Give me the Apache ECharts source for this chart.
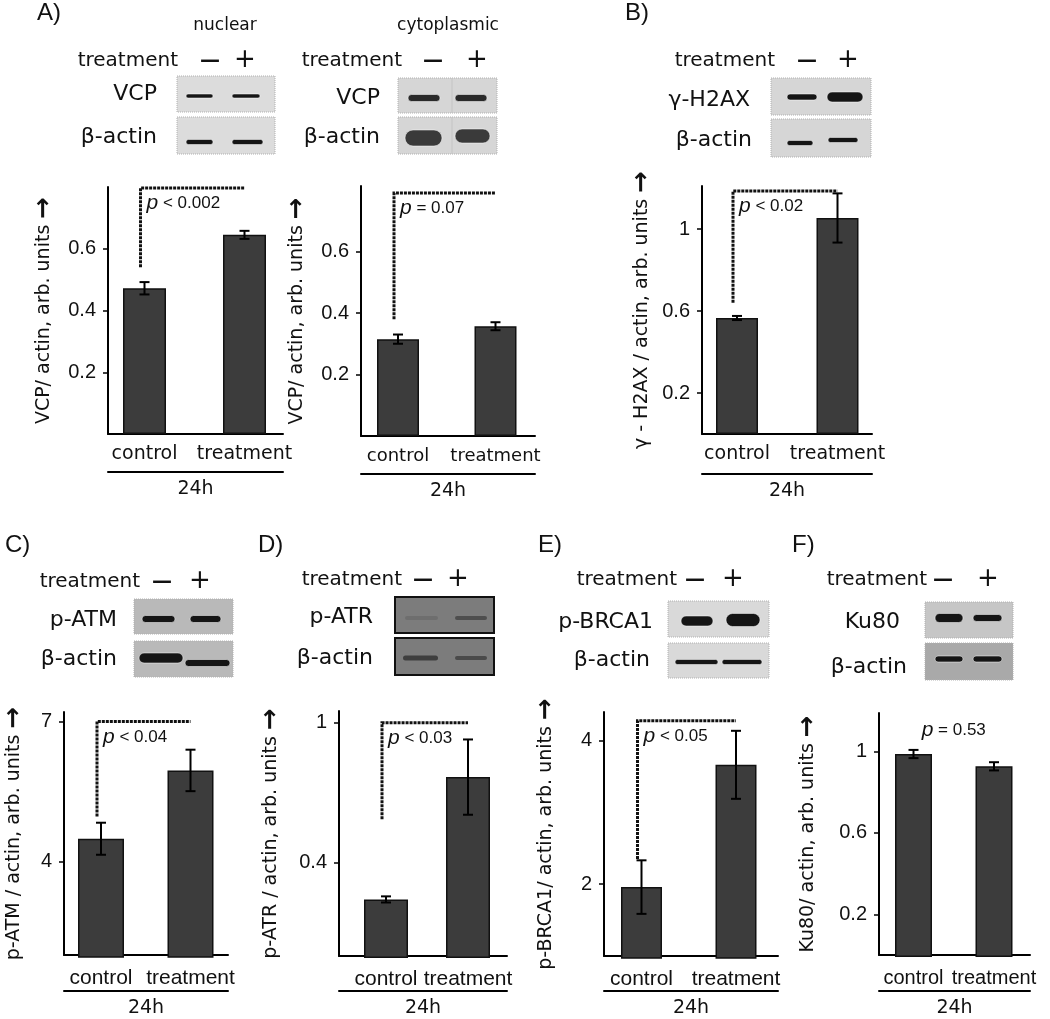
<!DOCTYPE html>
<html><head><meta charset="utf-8">
<script src="https://cdn.jsdelivr.net/npm/echarts@6/dist/echarts.min.js"></script>
<style>html,body{margin:0;padding:0;background:#fff}#c{width:1050px;height:1019px}</style>
</head><body><div id="c"></div>
<script>
// ---------------- DATA ----------------
const categories = ['control', 'treatment'];
// A) VCP nuclear
const vcpNuclear = [0.472, 0.645];
const vcpNuclearErr = [0.02, 0.013];
const vcpNuclearTicks = [0.2, 0.4, 0.6];
// A) VCP cytoplasmic
const vcpCyto = [0.315, 0.357];
const vcpCytoErr = [0.015, 0.013];
const vcpCytoTicks = [0.2, 0.4, 0.6];
// B) gamma-H2AX
const h2ax = [0.566, 1.054];
const h2axErr = [0.01, 0.12];
const h2axTicks = [0.2, 0.6, 1];
// C) p-ATM
const pATM = [4.51, 5.96];
const pATMErr = [0.34, 0.44];
const pATMTicks = [4, 7];
// D) p-ATR
const pATR = [0.249, 0.769];
const pATRErr = [0.013, 0.16];
const pATRTicks = [0.4, 1];
// E) p-BRCA1
const pBRCA1 = [1.98, 3.67];
const pBRCA1Err = [0.37, 0.47];
const pBRCA1Ticks = [2, 4];
// F) Ku80
const ku80 = [0.99, 0.93];
const ku80Err = [0.02, 0.02];
const ku80Ticks = [0.2, 0.6, 1];

const pValues = ['< 0.002', '= 0.07', '< 0.02', '< 0.04', '< 0.03', '< 0.05', '= 0.53'];
const yNames = ['VCP/ actin, arb. units', 'VCP/ actin, arb. units', 'γ - H2AX / actin, arb. units',
  'p-ATM / actin, arb. units', 'p-ATR / actin, arb. units', 'p-BRCA1/ actin, arb. units', 'Ku80/ actin, arb. units'];
const axisRanges = [[0, 0.8], [0, 0.813], [0, 1.21], [2, 7.2], [0, 1.05], [1, 4.4], [0, 1.19]];
// bracket: [start value on control side, top value]; null start = centred label only
const brackets = [[0.54, 0.797], [0.38, 0.79], [0.64, 1.185], [4.98, 7.0], [0.59, 1.0], [2.37, 4.28], [null, 1.107]];
const timeLabel = '24h';

const charts = [
  { values: vcpNuclear, err: vcpNuclearErr, ticks: vcpNuclearTicks },
  { values: vcpCyto, err: vcpCytoErr, ticks: vcpCytoTicks },
  { values: h2ax, err: h2axErr, ticks: h2axTicks },
  { values: pATM, err: pATMErr, ticks: pATMTicks },
  { values: pATR, err: pATRErr, ticks: pATRTicks },
  { values: pBRCA1, err: pBRCA1Err, ticks: pBRCA1Ticks },
  { values: ku80, err: ku80Err, ticks: ku80Ticks }
];

// ---------------- LAYOUT ----------------
const layout = [
  { L: 108, R: 283, T: 187, B: 434, c0: 144.5, c1: 244.5, bw: 43, nameGap: 51, off2: 38, catFont: 'DejaVu Sans', catSize: 19 },
  { L: 361, R: 535, T: 186, B: 436, c0: 398, c1: 495.5, bw: 42, nameGap: 51, off2: 38, catFont: 'DejaVu Sans', catSize: 18 },
  { L: 702, R: 872, T: 186, B: 434, c0: 737, c1: 837.5, bw: 42, nameGap: 47, off2: 40, catFont: 'DejaVu Sans', catSize: 19 },
  { L: 61, R: 228, T: 712, B: 957, c0: 101, c1: 190.5, bw: 46, nameGap: 37, off2: 36, catFont: 'Liberation Sans', catSize: 21 },
  { L: 339, R: 507, T: 711, B: 958, c0: 386, c1: 468, bw: 44, nameGap: 55, off2: 35, catFont: 'Liberation Sans', catSize: 21 },
  { L: 604, R: 778, T: 712, B: 958, c0: 641.5, c1: 736, bw: 41, nameGap: 45, off2: 35, catFont: 'Liberation Sans', catSize: 21 },
  { L: 879, R: 1030, T: 713, B: 957, c0: 913.5, c1: 994, bw: 37, nameGap: 58, off2: 36, catFont: 'Liberation Sans', catSize: 20 }
];
const FONT = 'DejaVu Sans';
const INK = '#111';

const blots = [
  { labels: [['VCP', 157, 94], ['β-actin', 157, 137]], treat: [178, 61, 210, 245],
    boxes: [[177, 76, 98, 36, '#dcdcdc'], [177, 117, 98, 37, '#dcdcdc']],
    bands: [[186, 96, 27, 4], [232, 96, 28, 4], [186, 142, 27, 5], [232, 142, 31, 5]] },
  { labels: [['VCP', 380, 98], ['β-actin', 380, 137]], treat: [402, 61, 433, 477],
    boxes: [[398, 78, 99, 35, '#d6d6d6'], [398, 117, 99, 37, '#d6d6d6']],
    bands: [[408, 98, 32, 7, '#2a2a2a'], [455, 98, 32, 7, '#2a2a2a'], [405, 138, 37, 16, '#3a3a3a'], [455, 136, 35, 14, '#3a3a3a']],
    divider: 452 },
  { labels: [['γ-H2AX', 750, 100], ['β-actin', 752, 140]], treat: [775, 61, 807, 848],
    boxes: [[771, 78, 100, 37, '#d6d6d6'], [771, 119, 100, 38, '#d6d6d6']],
    bands: [[787, 97, 30, 6], [827, 97, 36, 10], [787, 143, 26, 5], [828, 140, 30, 5]] },
  { labels: [['p-ATM', 117, 620], ['β-actin', 117, 659]], treat: [140, 582, 162, 200],
    boxes: [[134, 599, 99, 35, '#b9b9b9'], [134, 641, 99, 36, '#b9b9b9']],
    bands: [[142, 619, 33, 7], [190, 619, 31, 7], [139, 658, 44, 10], [185, 663, 45, 7]] },
  { labels: [['p-ATR', 373, 617], ['β-actin', 373, 658]], treat: [402, 580, 423, 458], dark: true,
    boxes: [[395, 597, 99, 36, '#7c7c7c', '#111'], [395, 638, 99, 37, '#7c7c7c', '#111']],
    bands: [[405, 618, 33, 4, '#6e6e6e'], [455, 618, 32, 4, '#4e4e4e'], [403, 658, 35, 5, '#3e3e3e'], [455, 658, 32, 4, '#4a4a4a']] },
  { labels: [['p-BRCA1', 653, 622], ['β-actin', 650, 660]], treat: [677, 580, 695, 733],
    boxes: [[668, 601, 101, 36, '#d9d9d9'], [668, 643, 101, 35, '#d9d9d9']],
    bands: [[681, 621, 32, 10], [726, 620, 34, 13], [675, 662, 43, 5], [722, 662, 40, 5]] },
  { labels: [['Ku80', 900, 622], ['β-actin', 907, 667]], treat: [927, 580, 943, 988],
    boxes: [[925, 602, 88, 36, '#c6c6c6'], [925, 643, 88, 37, '#a9a9a9']],
    bands: [[935, 618, 28, 9], [973, 618, 29, 7], [935, 659, 28, 6], [973, 659, 29, 6]] }
];
const panelLetters = [['A)', 37, 13], ['B)', 625, 13], ['C)', 5, 545], ['D)', 258, 545], ['E)', 538, 545], ['F)', 792, 545]];
const headers = [['nuclear', 225, 26], ['cytoplasmic', 448, 26]];

// ---------------- BUILD ----------------
function txt(text, x, y, size, align, extra) {
  return { type: 'text', x, y, z: 20, silent: true,
    style: Object.assign({ text, fontSize: size, fontFamily: FONT, fill: INK, align: align || 'left', verticalAlign: 'middle' }, extra || {}) };
}
const graphic = [];
panelLetters.forEach(p => graphic.push(txt(p[0], p[1], p[2], 24, 'left', { fontFamily: 'Liberation Sans' })));
headers.forEach(h => graphic.push(txt(h[0], h[1], h[2], 17, 'center')));
blots.forEach(b => {
  const t = b.treat;
  graphic.push(txt('treatment', t[0], t[1], 20, 'right'));
  graphic.push(txt('—', t[2], t[1], 20, 'center', { fontWeight: 'bold' }));
  graphic.push(txt('+', t[3], t[1] - 1, 26, 'center'));
  b.labels.forEach(l => graphic.push(txt(l[0], l[1], l[2], 22, 'right')));
  b.boxes.forEach(bx => graphic.push({ type: 'rect', z: 10, silent: true,
    shape: { x: bx[0], y: bx[1], width: bx[2], height: bx[3] },
    style: { fill: bx[4], stroke: bx[5] || '#b0b0b0', lineWidth: bx[5] ? 2 : 1, lineDash: bx[5] ? null : [1, 1] } }));
  if (b.divider) b.boxes.forEach(bx => graphic.push({ type: 'line', z: 11, silent: true,
    shape: { x1: b.divider, y1: bx[1], x2: b.divider, y2: bx[1] + bx[3] }, style: { stroke: '#c4c4c4', lineWidth: 1 } }));
  b.bands.forEach(bd => graphic.push({ type: 'rect', z: 12, silent: true,
    shape: { x: bd[0], y: bd[1] - bd[3] / 2, width: bd[2], height: bd[3], r: bd[3] / 2 },
    style: { fill: bd[4] || '#151515', stroke: b.dark ? null : 'rgba(255,255,255,0.5)', lineWidth: 1 } }));
});

function errorRender(params, api) {
  const k = api.value(0), v = api.value(1), e = api.value(2);
  const hi = api.coord([k, v + e]), lo = api.coord([k, v - e]);
  const w = 5, st = { stroke: '#000', lineWidth: 2 };
  return { type: 'group', children: [
    { type: 'line', shape: { x1: hi[0], y1: hi[1], x2: lo[0], y2: lo[1] }, style: st },
    { type: 'line', shape: { x1: hi[0] - w, y1: hi[1], x2: hi[0] + w, y2: hi[1] }, style: st },
    { type: 'line', shape: { x1: lo[0] - w, y1: lo[1], x2: lo[0] + w, y2: lo[1] }, style: st }
  ] };
}
function makeBracketRender(pText, hasStart) {
  return function (params, api) {
    const top = api.value(2);
    const pStyle = { text: '{i|p} ' + pText, fontSize: 17, fontFamily: 'Liberation Sans', fill: INK,
      rich: { i: { fontStyle: 'italic', fontSize: 21, fontFamily: 'Liberation Sans' } } };
    if (!hasStart) {
      const a = api.coord([0, top]), b = api.coord([1, top]);
      return { type: 'text', style: Object.assign({ x: (a[0] + b[0]) / 2, y: a[1], align: 'center', verticalAlign: 'middle' }, pStyle) };
    }
    const s = api.coord([0, api.value(1)]), t = api.coord([0, top]), e = api.coord([1, top]);
    const vx = s[0] - 4;
    return { type: 'group', children: [
      { type: 'polyline', shape: { points: [[vx, s[1]], [vx, t[1]], [e[0], t[1]]] },
        style: { stroke: INK, lineWidth: 3, lineDash: [3, 1], fill: null } },
      { type: 'text', style: Object.assign({ x: vx + 6, y: t[1] + 5, align: 'left', verticalAlign: 'top' }, pStyle) }
    ] };
  };
}

const grid = [], xAxis = [], yAxis = [], series = [];
const axisLineStyle = { color: '#000', width: 2 };
charts.forEach((ch, i) => {
  const lo = layout[i], H = lo.B - lo.T;
  const w2 = 2 * (lo.c1 - lo.c0), L2 = lo.c0 - w2 / 4;
  const [mn, mx] = axisRanges[i];
  grid.push({ left: lo.L, top: lo.T, width: lo.R - lo.L, height: H });
  grid.push({ left: L2, top: lo.T, width: w2, height: H });
  const g0 = 2 * i, g1 = 2 * i + 1;
  xAxis.push({ gridIndex: g0, type: 'value', min: 0, max: 1, axisLine: { onZero: false, lineStyle: axisLineStyle },
    axisTick: { show: false }, axisLabel: { show: false }, splitLine: { show: false } });
  xAxis.push({ gridIndex: g0, type: 'value', min: 0, max: 1, position: 'bottom', offset: lo.off2,
    axisLine: { onZero: false, lineStyle: axisLineStyle }, axisTick: { show: false }, axisLabel: { show: false },
    splitLine: { show: false }, name: timeLabel, nameLocation: 'middle', nameGap: 8,
    nameTextStyle: { fontSize: 19, fontFamily: FONT, color: INK } });
  xAxis.push({ gridIndex: g1, type: 'category', data: categories, axisLine: { show: false }, axisTick: { show: false },
    axisLabel: { margin: 11, fontSize: lo.catSize, fontFamily: lo.catFont, color: INK, interval: 0 } });
  yAxis.push({ gridIndex: g0, type: 'value', min: mn, max: mx,
    axisLine: { show: true, onZero: false, lineStyle: axisLineStyle },
    axisTick: { show: true, length: 5, customValues: ch.ticks, lineStyle: { color: '#000', width: 1.5 } },
    axisLabel: { customValues: ch.ticks, margin: 12, fontSize: 20, fontFamily: 'Liberation Sans', color: INK },
    splitLine: { show: false },
    name: yNames[i] + ' {ar|→}', nameLocation: 'middle', nameRotate: 90, nameGap: lo.nameGap,
    nameTextStyle: { fontSize: 19, fontFamily: FONT, color: INK, rich: { ar: { fontSize: 26, fontWeight: 'bold', fontFamily: FONT, color: INK } } } });
  yAxis.push({ gridIndex: g1, type: 'value', min: mn, max: mx, show: false });
  const xi = 3 * i + 2, yi = 2 * i + 1;
  series.push({ type: 'bar', xAxisIndex: xi, yAxisIndex: yi, data: ch.values, barWidth: lo.bw, silent: true,
    itemStyle: { color: '#3c3c3c', borderColor: '#111', borderWidth: 1.5 } });
  series.push({ type: 'custom', xAxisIndex: xi, yAxisIndex: yi, z: 5, silent: true,
    data: ch.values.map((v, k) => [k, v, ch.err[k]]), renderItem: errorRender });
  const br = brackets[i];
  series.push({ type: 'custom', xAxisIndex: xi, yAxisIndex: yi, z: 6, silent: true, clip: false,
    data: [[0, br[0] === null ? br[1] : br[0], br[1]]], renderItem: makeBracketRender(pValues[i], br[0] !== null) });
});

const chart = echarts.init(document.getElementById('c'));
chart.setOption({ animation: false, backgroundColor: '#fff', grid, xAxis, yAxis, series, graphic });
</script>
</body></html>
